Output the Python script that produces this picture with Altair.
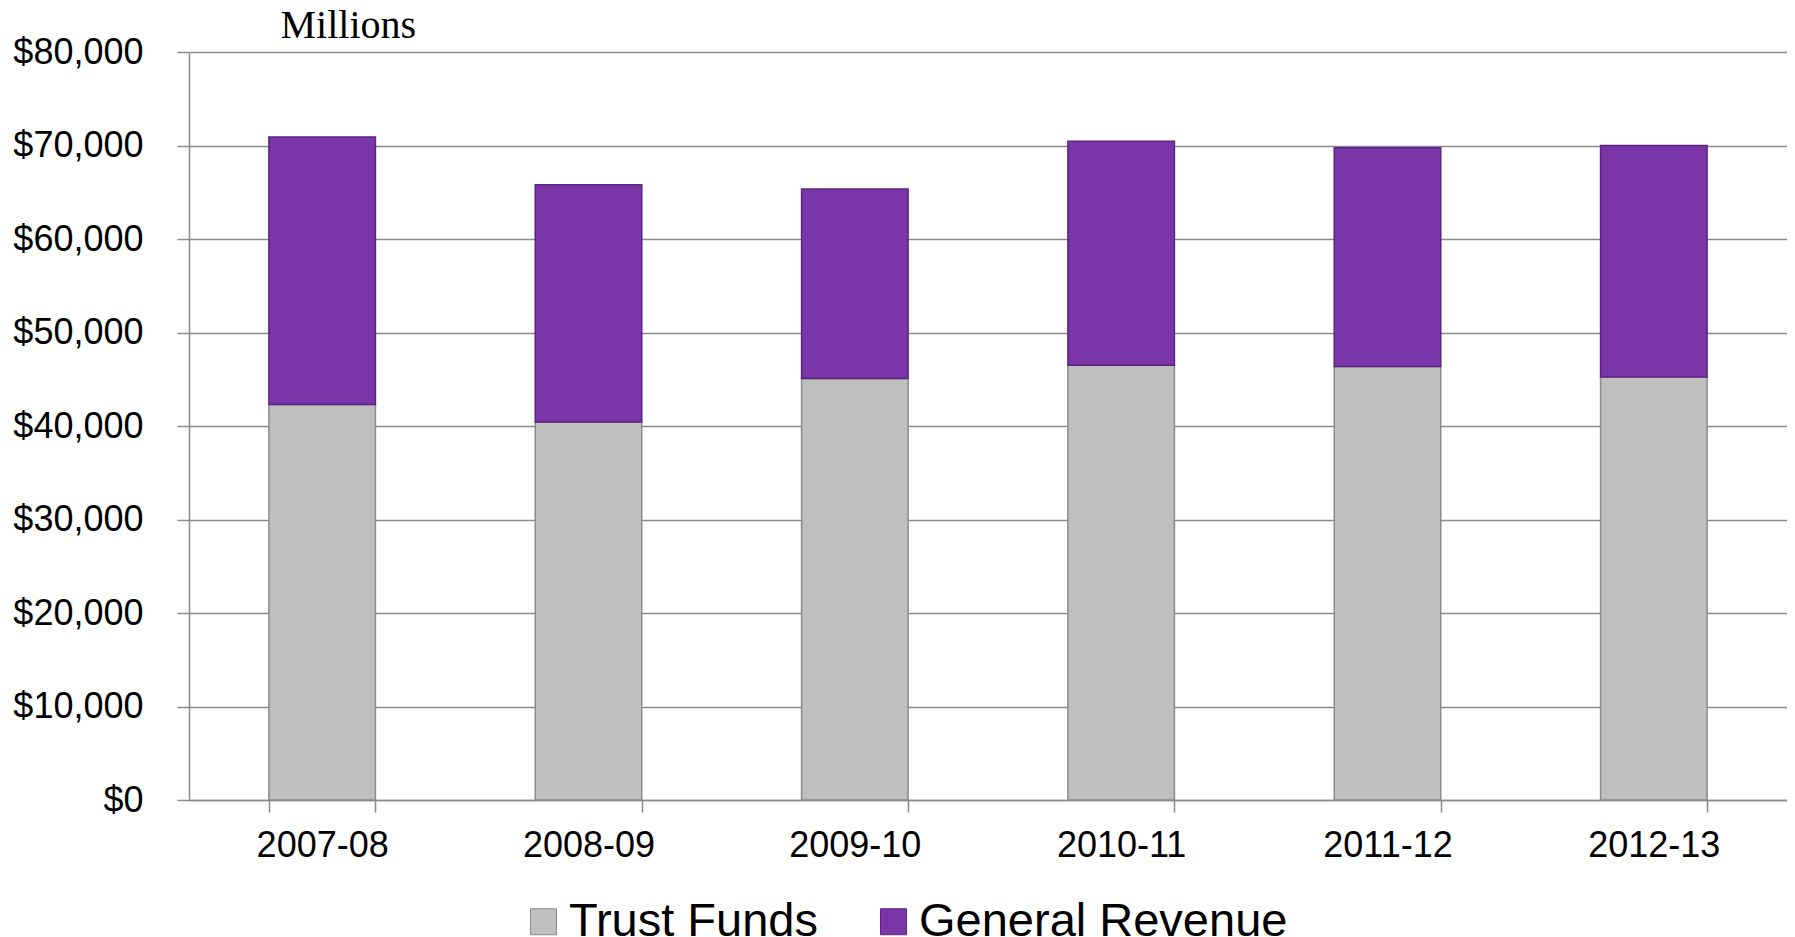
import altair as alt
import pandas as pd

years = ["2007-08", "2008-09", "2009-10", "2010-11", "2011-12", "2012-13"]
trust_funds = [42300, 40430, 45070, 46500, 46370, 45230]
general_revenue = [28600, 25370, 20280, 23950, 23380, 24770]
series = ["Trust Funds", "General Revenue"]
y_ticks = [0, 10000, 20000, 30000, 40000, 50000, 60000, 70000, 80000]

rows = []
for i, yr in enumerate(years):
    rows.append({"year": yr, "series": series[0], "value": trust_funds[i], "ord": 0})
    rows.append({"year": yr, "series": series[1], "value": general_revenue[i], "ord": 1})
df = pd.DataFrame(rows)

FONT = "Liberation Sans"
GRID = "#8A8A8A"

chart = alt.Chart(df).mark_bar(strokeWidth=1.5).encode(
    x=alt.X(
        "year:N",
        sort=years,
        scale=alt.Scale(paddingInner=0.6, paddingOuter=0.3),
        axis=alt.Axis(
            title=None,
            labelAngle=0,
            labelFont=FONT,
            labelFontSize=36,
            labelColor="#000000",
            labelPadding=16,
            tickBand="extent",
            tickSize=12,
            tickColor=GRID,
            tickWidth=1.5,
            domainColor=GRID,
            domainWidth=1.5,
            grid=False,
        ),
    ),
    y=alt.Y(
        "value:Q",
        stack="zero",
        scale=alt.Scale(domain=[0, 80000], nice=False),
        axis=alt.Axis(
            title="Millions",
            titleAngle=0,
            titleX=91,
            titleY=-15,
            titleAlign="left",
            titleBaseline="alphabetic",
            titleFont="Liberation Serif",
            titleFontSize=40,
            titleFontWeight="normal",
            titleColor="#000000",
            values=y_ticks,
            format="$,.0f",
            labelFont=FONT,
            labelFontSize=36,
            labelColor="#000000",
            labelPadding=34,
            tickSize=12,
            tickColor=GRID,
            tickWidth=1.5,
            domainColor=GRID,
            domainWidth=1.5,
            gridColor=GRID,
            gridWidth=1.6,
        ),
    ),
    color=alt.Color(
        "series:N",
        sort=series,
        scale=alt.Scale(domain=series, range=["#BFBFBF", "#7A35A8"]),
        legend=alt.Legend(
            title=None,
            orient="none",
            direction="horizontal",
            legendX=331,
            legendY=846,
            symbolType="square",
            symbolSize=676,
            symbolStrokeWidth=1,
            symbolStrokeColor="#7F7F7F",
            labelFont=FONT,
            labelFontSize=47,
            labelColor="#000000",
            labelOffset=2,
            labelLimit=600,
            columnPadding=52,
        ),
    ),
    stroke=alt.Stroke(
        "series:N",
        sort=series,
        scale=alt.Scale(domain=series, range=["#8C8C8C", "#5B2580"]),
        legend=None,
    ),
    order=alt.Order("ord:Q", sort="ascending"),
).properties(
    width=1598,
    height=748,
    autosize=alt.AutoSizeParams(type="none"),
    padding={"left": 181, "top": 44, "right": 0, "bottom": 137},
).configure_view(stroke=None)

chart.save("out.html", embed_options={"renderer": "svg", "actions": False})
